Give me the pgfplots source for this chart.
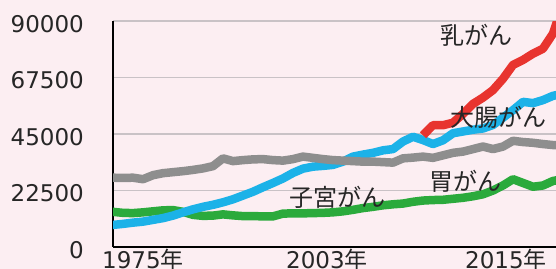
\documentclass[border=0pt]{standalone}
\usepackage{fontspec}
\setmainfont{DejaVu Sans}
\newfontfamily\jp{Noto Sans CJK JP}
\usepackage{pgfplots}
\pgfplotsset{compat=1.18}
\usepackage{pgfplotstable}
\definecolor{bgpink}{HTML}{FCEEF2}
\definecolor{gridgray}{HTML}{C9C2C6}
\definecolor{cred}{HTML}{E8342F}
\definecolor{cblue}{HTML}{1CB2E8}
\definecolor{cgray}{HTML}{8E8E8E}
\definecolor{cgreen}{HTML}{2BAA3C}

\pgfplotstableread{
year gray green blue
1975 27600 14000 8800
1976 27500 13600 9200
1977 27600 13500 9700
1978 27000 13800 10100
1979 28600 14200 10800
1980 29400 14600 11500
1981 29800 14700 12500
1982 30200 14000 13800
1983 30700 12800 15000
1984 31300 12400 16000
1985 32200 12500 16800
1986 35300 13000 17800
1987 34200 12600 19000
1988 34600 12300 20500
1989 34900 12300 22000
1990 35000 12200 23800
1991 34600 12200 25500
1992 34400 13300 27300
1993 35000 13400 29500
1994 36000 13400 31200
1995 35500 13500 32000
1996 35000 13600 32300
1997 34600 13800 32700
1998 34400 14200 34000
1999 34200 14800 36000
2000 34000 15500 36800
2001 34000 16000 37500
2002 33800 16600 38500
2003 33600 17000 39000
2004 35300 17300 42000
2005 35600 18000 43900
2006 36000 18500 42600
2007 35500 18700 41000
2008 36500 18800 42500
2009 37500 19200 45300
2010 38000 19600 46000
2011 39000 20200 46700
2012 40000 21000 47200
2013 39000 22500 48600
2014 40000 24500 51500
2015 42300 27000 54500
2016 41800 25500 57800
2017 41500 24000 57300
2018 41000 24500 58500
2019 40600 26300 60200
2020 40400 27000 61000
}\maindata

\pgfplotstableread{
year red
2006 44500
2007 48500
2008 48500
2009 49500
2010 53000
2011 57000
2012 59500
2013 62500
2014 67000
2015 72500
2016 74500
2017 77000
2018 79000
2019 85000
2020 97000
}\reddata

\begin{document}
\begin{tikzpicture}
\fill[bgpink] (0,0) rectangle (556bp,269bp);
\begin{axis}[
  at={(113bp,22bp)}, anchor=south west,
  scale only axis, width=443bp, height=226bp,
  xmin=1975, xmax=2019.3, ymin=0, ymax=90000,
  scaled y ticks=false, scaled x ticks=false,
  axis x line*=bottom, axis y line*=left,
  axis line style={black, line width=2.4bp, -},
  ytick={0,22500,45000,67500,90000},
  yticklabels={0,22500,45000,67500,90000},
  xtick={1978.0,1996.4,2014.3},
  xticklabels={1975{\jp 年},2003{\jp 年},2015{\jp 年}},
  major tick length=0pt,
  tick label style={font=\fontsize{23bp}{26bp}\selectfont, text=black!85},
  yticklabel style={anchor=east, inner sep=0pt, xshift=-29bp, yshift=-3bp},
  xticklabel style={anchor=north, inner sep=0pt, yshift=-2bp},
  ymajorgrids, grid style={draw=gridgray, line width=1.2bp},
  every axis plot/.append style={line width=8.5bp, line join=round, line cap=round},
]
\addplot[cgreen] table[x=year, y=green] {\maindata};
\addplot[cblue] table[x=year, y=blue] {\maindata};
\addplot[cgray] table[x=year, y=gray] {\maindata};
\addplot[cred, line cap=butt] table[x=year, y=red] {\reddata};
\node[font=\jp\fontsize{24bp}{26bp}\selectfont, inner sep=0pt, text=black!85] at (axis cs:2011.3,84400) {乳がん};
\node[font=\jp\fontsize{24bp}{26bp}\selectfont, inner sep=0pt, text=black!85] at (axis cs:2013.5,51800) {大腸がん};
\node[font=\jp\fontsize{24bp}{26bp}\selectfont, inner sep=0pt, text=black!85] at (axis cs:2010.2,26300) {胃がん};
\node[font=\jp\fontsize{24bp}{26bp}\selectfont, inner sep=0pt, text=black!85] at (axis cs:1997.4,19900) {子宮がん};
\end{axis}
\pgfresetboundingbox
\path[use as bounding box] (0,0) rectangle (556bp,269bp);
\end{tikzpicture}
\end{document}
